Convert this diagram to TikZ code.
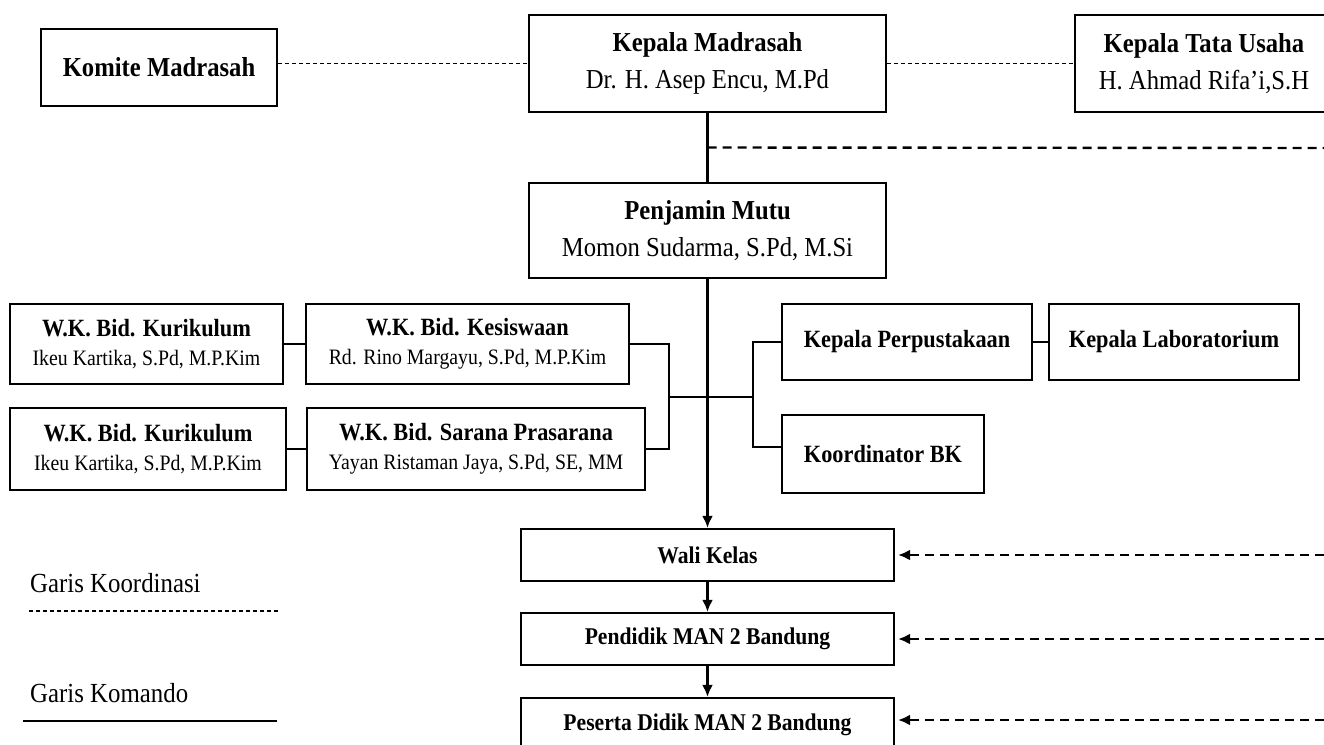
\documentclass[tikz,border=0pt]{standalone}
\usepackage{fontspec}
\setmainfont{Liberation Serif}[FakeStretch=0.9]
\usetikzlibrary{calc}
\usetikzlibrary{positioning}
\usetikzlibrary{arrows.meta}

\newcommand{\judul}[1]{{\fontsize{12.4}{14.5}\selectfont\bfseries #1}}

\begin{document}
\begin{tikzpicture}[
  x=0.5pt, y=-0.5pt, line width=1.2pt,
  > = {Latex[length=6pt,width=5.5pt]},
  box/.style = {draw, line width=1.1pt, inner sep=0pt, align=center},
  bigbox/.style = {box, minimum width=178.5pt, minimum height=48.5pt, font=\fontsize{13.7}{18.5}\selectfont},
  smallbox/.style = {box, minimum height=40pt, font=\fontsize{11}{14.5}\selectfont},
  unitbox/.style = {box, minimum width=125pt, minimum height=38pt, font=\fontsize{12.4}{14.5}\selectfont\bfseries},
  rowbox/.style = {box, minimum width=186.5pt, minimum height=26pt, font=\fontsize{12}{14}\selectfont\bfseries},
  koord/.style = {dash pattern=on 2pt off 1.5pt, line width=0.9pt},
  koordwide/.style = {dash pattern=on 4.5pt off 3pt, line width=1.2pt},
  legend/.style = {anchor=west, inner sep=0pt, font=\fontsize{13.8}{15}\selectfont}
  ]
	\useasboundingbox (0,0) rectangle (1324,745);
	\clip (0,0) rectangle (1324,745);

	% pimpinan
	\node[bigbox] (kepala) at (707.5,63.5) {\textbf{Kepala Madrasah}\\Dr. H. Asep Encu, M.Pd};
	\node[bigbox,minimum width=118pt,minimum height=38.5pt,font=\fontsize{13.7}{18.5}\selectfont\bfseries] (komite) at (159,67.5) {Komite Madrasah};
	\node[bigbox,minimum width=129pt] (tatausaha) at (1204,63.5) {\textbf{Kepala Tata Usaha}\\H. Ahmad Rifa'i,S.H};
	\node[bigbox,minimum height=47.5pt] (penjamin) at (707.5,230.5) {\textbf{Penjamin Mutu}\\Momon Sudarma, S.Pd, M.Si};

	% wakil kepala
	\node[smallbox,minimum width=136.5pt] (kurikulumA) at (146.5,344) {\judul{W.K. Bid. Kurikulum}\\Ikeu Kartika, S.Pd, M.P.Kim};
	\node[smallbox,minimum width=161.5pt] (kesiswaan) at (467.5,344) {\judul{W.K. Bid. Kesiswaan}\\Rd. Rino Margayu, S.Pd, M.P.Kim};
	\node[smallbox,minimum width=138pt,minimum height=41pt] (kurikulumB) at (148,449) {\judul{W.K. Bid. Kurikulum}\\Ikeu Kartika, S.Pd, M.P.Kim};
	\node[smallbox,minimum width=169pt,minimum height=41pt] (sarana) at (476,449) {\judul{W.K. Bid. Sarana Prasarana}\\Yayan Ristaman Jaya, S.Pd, SE, MM};

	% unit
	\node[unitbox] (perpustakaan) at (907,342) {Kepala Perpustakaan};
	\node[unitbox] (laboratorium) at (1174,342) {Kepala Laboratorium};
	\node[unitbox,minimum width=101pt,minimum height=39pt] (bk) at (883,454) {Koordinator BK};

	% pelaksana
	\node[rowbox] (walikelas) at (707.5,555) {Wali Kelas};
	\node[rowbox] (pendidik) at (707.5,639) {Pendidik MAN 2 Bandung};
	\node[rowbox,minimum height=27pt] (peserta) at (707.5,725) {Peserta Didik MAN 2 Bandung};

	\coordinate (cabang) at ($(kepala.south)!0.5!(penjamin.north)$);
	\coordinate (cabangkanan) at (1324,148);
	\coordinate (kiri) at (669,397);
	\coordinate (kanan) at (753,397);
	\coordinate (@1) at (1324,555);
	\coordinate (@2) at (1324,639);
	\coordinate (@3) at (1324,720);

	\draw[koord] (komite.east |- kepala.west) -- (kepala.west);
	\draw[koord] (kepala.east) -- (tatausaha.west);
	\draw (kepala.south) -- (penjamin.north);
	\draw[koordwide] (cabang) -- (cabangkanan);
	\draw[->] (penjamin.south) -- (walikelas.north);
	\draw[->] (walikelas.south) -- (pendidik.north);
	\draw[->] (pendidik.south) -- (peserta.north);

	\draw (kurikulumA) -- (kesiswaan);
	\draw (kurikulumB) -- (sarana);
	\draw (kesiswaan.east) -| (kiri) |- (sarana.east);
	\draw (kiri) -- (kanan);
	\draw (perpustakaan.west) -| (kanan) |- ([yshift=3.5pt]bk.west);
	\draw (perpustakaan) -- (laboratorium);

	\draw[koordwide,->,shorten >=1.5pt] (@1) -- (walikelas.east);
	\draw[koordwide,->,shorten >=1.5pt] (@2) -- (pendidik.east);
	\draw[koordwide,->,shorten >=1.5pt] (@3) -- (peserta.east |- @3);

	% keterangan
	\node[legend] (lkoord) at (29,583) {Garis Koordinasi};
	\node[legend] (lkomando) at (29,693) {Garis Komando};
	\coordinate (lk1) at (29,611);
	\coordinate (lk2) at (279,611);
	\coordinate (lm1) at (23,721);
	\coordinate (lm2) at (277,721);
	\draw[koord] (lk1) -- (lk2);
	\draw[line width=1.4pt] (lm1) -- (lm2);

\end{tikzpicture}
\end{document}
